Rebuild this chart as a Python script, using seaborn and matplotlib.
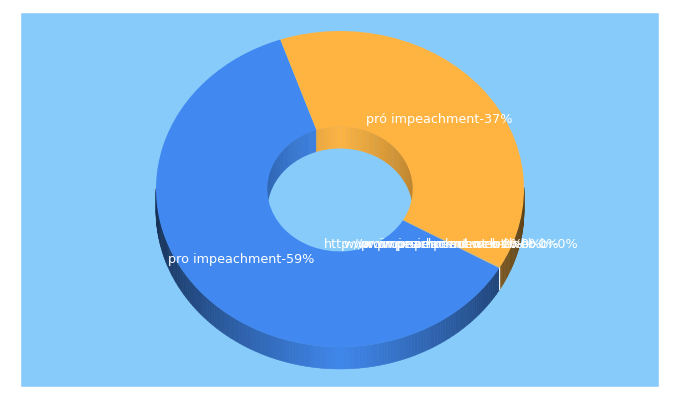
import numpy as np
import matplotlib
matplotlib.use("Agg")
import matplotlib.pyplot as plt
from matplotlib.collections import PolyCollection
from matplotlib.patches import Ellipse
import seaborn as sns

labels = ["pro impeachment-59%", "pró impeachment-37%",
          "http://www.proimpeachment.web.br-0%",
          "www.proimpeachment.web.br-0%",
          "proimpeachment.web.br-0%",
          "impeachment web-0%"]
values = [59, 37, 0.02, 0.02, 0.02, 0.02]
top_colors = ["#4189F0", "#FFB441", "#FFB441", "#FFB441", "#FFB441", "#FFB441"]
side_colors = ["#4189F0", "#FFB441", "#F2F6F8", "#F2F6F8", "#F2F6F8", "#F2F6F8"]
background = "#87CBFB"

sns.set_theme(style="white", rc={"font.family": ["DejaVu Sans"]})
top_palette = sns.color_palette(top_colors)
side_palette = sns.color_palette(side_colors)

fig = plt.figure(figsize=(6.8, 4.0), dpi=100, facecolor="white")
ax = fig.add_axes([20 / 680, 1 - 387 / 400, 639 / 680, 375 / 400])
ax.set_facecolor(background)

START_CLOCK = 120.0          # degrees clockwise from 12 o'clock
HOLE = 0.395
DEPTH = 0.139


def wall(radius, keep_front, low, high, power):
    total = sum(values)
    polys, cols = [], []
    begin = START_CLOCK
    for v, col in zip(values, side_palette):
        span = v / total * 360
        n = max(2, int(span))
        edges = np.radians(np.linspace(begin, begin + span, n + 1))
        for a, b in zip(edges[:-1], edges[1:]):
            mid = (a + b) / 2
            front = np.cos(mid) < 0
            if front != keep_front:
                continue
            x0, y0 = radius * np.sin(a), radius * np.cos(a)
            x1, y1 = radius * np.sin(b), radius * np.cos(b)
            polys.append([(x0, y0), (x1, y1), (x1, y1 - DEPTH), (x0, y0 - DEPTH)])
            is_seam = v < 1
            k = 1.0 if is_seam else low + (high - low) * (1 - abs(np.sin(mid))) ** power
            cols.append(tuple(c * k for c in col))
        begin += span
    return PolyCollection(polys, facecolors=cols, edgecolors=cols, linewidths=0.4)


ax.add_collection(wall(1.0, True, 0.36, 0.98, 0.75))
ax.add_collection(wall(HOLE, False, 0.74, 1.0, 0.8))
ax.add_patch(Ellipse((0, -DEPTH), 2 * HOLE, 2 * HOLE, facecolor=background, edgecolor="none"))

wedges, texts = ax.pie(
    values, labels=labels, colors=top_palette, startangle=90 - START_CLOCK,
    counterclock=False, radius=1.0, labeldistance=(1 + HOLE) / 2,
    wedgeprops=dict(width=1 - HOLE, linewidth=0),
    textprops=dict(color="white", fontsize=9.2),
)
for t in texts:
    t.set_horizontalalignment("center")
    t.set_verticalalignment("center")
    x, y = t.get_position()
    t.set_position((x, y - 0.005))

ax.set_aspect("auto")
ax.set_xlim((20 - 340) / 184, (659 - 340) / 184)
ax.set_ylim((189 - 387) / 158, (189 - 12) / 158)
ax.set_axis_off()
ax.add_patch(plt.Rectangle((0, 0), 1, 1, transform=ax.transAxes, facecolor=background, zorder=-5))
fig.savefig("out.png", dpi=100, facecolor="white")
